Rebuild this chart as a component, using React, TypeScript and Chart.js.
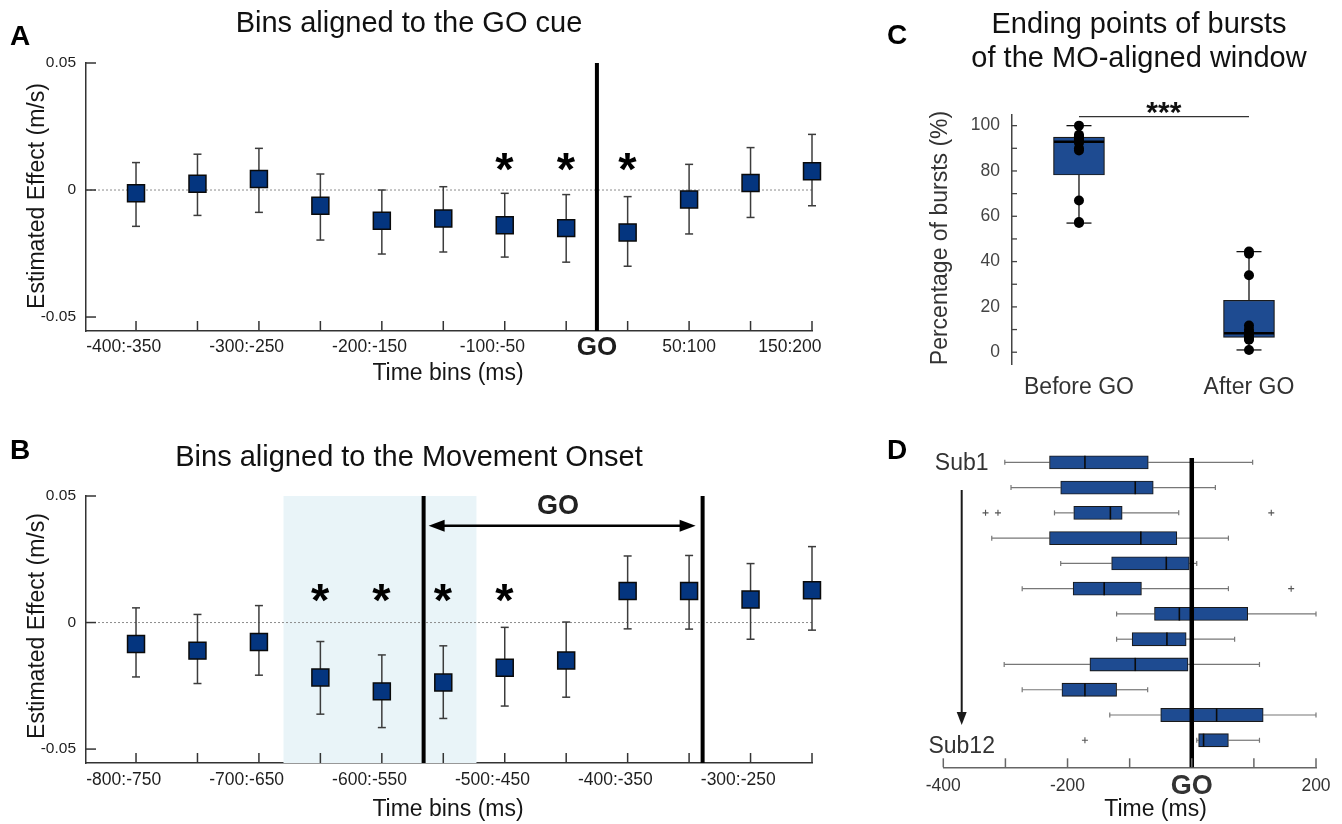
import React, { useEffect, useRef } from 'react';
import { Chart, registerables } from 'chart.js';

Chart.register(...registerables);

const FONT = '"Liberation Sans", Arial, Helvetica, sans-serif';
Chart.defaults.font.family = FONT;

const W = 1342;
const H = 824;

// ---------------- Panel A : bins aligned to the GO cue ----------------
const binLabelsA = ['-400:-350', '-350:-300', '-300:-250', '-250:-200', '-200:-150', '-150:-100', '-100:-50', '-50:0', '0:50', '50:100', '100:150', '150:200'];
const binCentersA = [-375, -325, -275, -225, -175, -125, -75, -25, 25, 75, 125, 175];
const effectA = [-0.0013, 0.0025, 0.0043, -0.0062, -0.0121, -0.0112, -0.0139, -0.015, -0.0167, -0.0037, 0.0028, 0.0074];
const lowerA = [-0.0143, -0.01, -0.0088, -0.0197, -0.0252, -0.0244, -0.0264, -0.0284, -0.03, -0.0173, -0.0108, -0.0062];
const upperA = [0.0108, 0.0141, 0.0164, 0.0063, 0.0, 0.0013, -0.0013, -0.0018, -0.0026, 0.0101, 0.0167, 0.0219];
const significantA = [6, 7, 8];
const tickPosA = [-385, -285, -185, -85, 0, 75, 157];
const tickTextA = ['-400:-350', '-300:-250', '-200:-150', '-100:-50', 'GO', '50:100', '150:200'];
const goLinesA = [0];

// ---------------- Panel B : bins aligned to the movement onset ----------------
const binLabelsB = ['-800:-750', '-750:-700', '-700:-650', '-650:-600', '-600:-550', '-550:-500', '-500:-450', '-450:-400', '-400:-350', '-350:-300', '-300:-250', '-250:-200'];
const binCentersB = [-775, -725, -675, -625, -575, -525, -475, -425, -375, -325, -275, -225];
const effectB = [-0.0085, -0.0111, -0.0077, -0.0217, -0.0272, -0.0237, -0.0179, -0.015, 0.0125, 0.0125, 0.0091, 0.0128];
const lowerB = [-0.0215, -0.0241, -0.0208, -0.0362, -0.0415, -0.0379, -0.033, -0.0295, -0.0025, -0.0026, -0.0066, -0.003];
const upperB = [0.0058, 0.0032, 0.0067, -0.0075, -0.0128, -0.0092, -0.0019, 0.0002, 0.0263, 0.0265, 0.0233, 0.03];
const significantB = [3, 4, 5, 6];
const tickPosB = [-785, -685, -585, -485, -385, -285];
const tickTextB = ['-800:-750', '-700:-650', '-600:-550', '-500:-450', '-400:-350', '-300:-250'];
const goLinesB = [-541, -314];
const shadeB = [-655, -498];

const yTicksAB = [-0.05, 0, 0.05];
const yTickTextAB = ['-0.05', '0', '0.05'];

// ---------------- Panel C : ending points of bursts ----------------
const groupsC = ['Before GO', 'After GO'];
const groupPosC = [1, 2];
const pointsBeforeC = [57, 57.5, 67, 89, 90, 92.5, 93.3, 94, 94.5, 95.3, 96, 100];
const pointsAfterC = [1, 5.5, 6, 7, 7.5, 8, 8.8, 10, 11.8, 34, 43.5, 44.4];
const q1C = [78.2, 6.5];
const medianC = [92.9, 8.4];
const q3C = [94.9, 22.9];
const whiskerLowC = [57, 1];
const whiskerHighC = [100, 44.4];
const yTicksC = [0, 20, 40, 60, 80, 100];
const sigLevelC = 104;

// ---------------- Panel D : per-subject burst timing ----------------
const subjectsD = [1, 2, 3, 4, 5, 6, 7, 8, 9, 10, 11, 12];
const whiskerLowD = [-301, -291, -221, -322, -211, -273, -121, -121, -302, -273, -132, 8];
const q1D = [-229, -211, -190, -229, -129, -191, -60, -96, -164, -209, -50, 11];
const medianD = [-172, -91, -131, -82, -41, -141, -20, -40, -91, -172, 40, 19];
const q3D = [-70, -62, -112, -24, -4, -81, 90, -9, -6, -121, 115, 59];
const whiskerHighD = [98, 38, -21, 59, 8, 59, 200, 69, 109, -71, 200, 109];
const outlierRowD = [3, 3, 3, 6, 12];
const outlierTimeD = [-332, -312, 128, 160, -172];
const tickPosD = [-400, -200, 0, 200];
const tickTextD = ['-400', '-200', 'GO', '200'];

// ---------------- colours ----------------
const SQUARE = '#04357f';
const BOX = '#1e4b91';
const AXIS = '#333333';

// ---------------- drawing helpers ----------------
function seg(ctx: CanvasRenderingContext2D, x1: number, y1: number, x2: number, y2: number) {
  ctx.beginPath();
  ctx.moveTo(x1, y1);
  ctx.lineTo(x2, y2);
  ctx.stroke();
}

function text(ctx: CanvasRenderingContext2D, s: string, x: number, y: number, font: string, color: string, align: CanvasTextAlign = 'center', baseline: CanvasTextBaseline = 'alphabetic') {
  ctx.save();
  ctx.font = font;
  ctx.fillStyle = color;
  ctx.textAlign = align;
  ctx.textBaseline = baseline;
  ctx.fillText(s, x, y);
  ctx.restore();
}

function vtext(ctx: CanvasRenderingContext2D, s: string, cx: number, cy: number, font: string, color: string) {
  ctx.save();
  ctx.translate(cx, cy);
  ctx.rotate(-Math.PI / 2);
  ctx.font = font;
  ctx.fillStyle = color;
  ctx.textAlign = 'center';
  ctx.textBaseline = 'middle';
  ctx.fillText(s, 0, 0);
  ctx.restore();
}

function glyph(ctx: CanvasRenderingContext2D, s: string, cx: number, cy: number, font: string, color: string) {
  ctx.save();
  ctx.font = font;
  ctx.fillStyle = color;
  ctx.textAlign = 'left';
  ctx.textBaseline = 'alphabetic';
  const m = ctx.measureText(s);
  const x = cx - (m.actualBoundingBoxRight - m.actualBoundingBoxLeft) / 2;
  const y = cy + (m.actualBoundingBoxAscent - m.actualBoundingBoxDescent) / 2;
  ctx.fillText(s, x, y);
  ctx.restore();
}

function arrowHead(ctx: CanvasRenderingContext2D, tx: number, ty: number, dx: number, dy: number, len: number, half: number) {
  const bx = tx - dx * len;
  const by = ty - dy * len;
  ctx.beginPath();
  ctx.moveTo(tx, ty);
  ctx.lineTo(bx - dy * half, by + dx * half);
  ctx.lineTo(bx + dy * half, by - dx * half);
  ctx.closePath();
  ctx.fill();
}

// ---------------- A / B config ----------------
type EffectPanel = {
  id: string;
  top: number;
  bottom: number;
  xMin: number;
  xMax: number;
  centers: number[];
  values: number[];
  lower: number[];
  upper: number[];
  significant: number[];
  starLevel: number;
  tickPos: number[];
  tickText: string[];
  tickPad: number;
  goLines: number[];
  shade?: number[];
  title: string;
  titleY: number;
  letter: string;
  letterY: number;
  yTitleY: number;
  xTitleY: number;
  goArrow?: boolean;
};

function effectConfig(p: EffectPanel) {
  const plugin = {
    id: 'effect' + p.id,
    beforeDatasetsDraw(chart: any) {
      const { ctx, chartArea: ca } = chart;
      const x = chart.scales.x;
      const y = chart.scales.y;
      ctx.save();
      if (p.shade) {
        const a = x.getPixelForValue(p.shade[0]);
        const b = x.getPixelForValue(p.shade[1]);
        ctx.fillStyle = '#e9f4f8';
        ctx.fillRect(a, y.getPixelForValue(0.05), b - a, ca.bottom - y.getPixelForValue(0.05));
      }
      ctx.strokeStyle = '#8c8c8c';
      ctx.lineWidth = 1;
      ctx.setLineDash([2, 2]);
      const y0 = y.getPixelForValue(0);
      seg(ctx, ca.left, y0, ca.right, y0);
      ctx.setLineDash([]);
      ctx.strokeStyle = '#000';
      ctx.lineWidth = 4;
      p.goLines.forEach((g) => {
        const gx = x.getPixelForValue(g);
        seg(ctx, gx, ca.top, gx, ca.bottom);
      });
      ctx.strokeStyle = '#3c3c3c';
      ctx.lineWidth = 1.5;
      p.centers.forEach((c, i) => {
        const px = x.getPixelForValue(c);
        const y1 = y.getPixelForValue(p.lower[i]);
        const y2 = y.getPixelForValue(p.upper[i]);
        seg(ctx, px, y1, px, y2);
        seg(ctx, px - 4, y1, px + 4, y1);
        seg(ctx, px - 4, y2, px + 4, y2);
      });
      ctx.restore();
    },
    afterDatasetsDraw(chart: any) {
      const { ctx } = chart;
      const x = chart.scales.x;
      const y = chart.scales.y;
      p.significant.forEach((i) => {
        glyph(ctx, '*', x.getPixelForValue(p.centers[i]), y.getPixelForValue(p.starLevel), 'bold 47px ' + FONT, '#000');
      });
      if (p.goArrow) {
        const l = x.getPixelForValue(p.goLines[0]) + 5;
        const r = x.getPixelForValue(p.goLines[1]) - 7;
        const ay = y.getPixelForValue(0.0382);
        ctx.save();
        ctx.strokeStyle = '#000';
        ctx.fillStyle = '#000';
        ctx.lineWidth = 2.5;
        seg(ctx, l + 10, ay, r - 10, ay);
        arrowHead(ctx, l, ay, -1, 0, 16, 6);
        arrowHead(ctx, r, ay, 1, 0, 16, 6);
        ctx.restore();
        const mid = (x.getPixelForValue(p.goLines[0]) + x.getPixelForValue(p.goLines[1])) / 2 - 5;
        glyph(ctx, 'GO', mid, y.getPixelForValue(0.0468), 'bold 27px ' + FONT, '#222');
      }
    },
    afterDraw(chart: any) {
      const { ctx, chartArea: ca } = chart;
      const x = chart.scales.x;
      const y = chart.scales.y;
      ctx.save();
      ctx.strokeStyle = AXIS;
      ctx.lineWidth = 1.5;
      p.centers.forEach((c) => {
        const px = x.getPixelForValue(c);
        seg(ctx, px, ca.bottom, px, ca.bottom - 10);
      });
      yTicksAB.forEach((v) => {
        const py = y.getPixelForValue(v);
        seg(ctx, ca.left, py, ca.left + 10, py);
      });
      ctx.restore();
      text(ctx, p.title, 409, p.titleY, '29px ' + FONT, '#111');
      text(ctx, p.letter, 10, p.letterY, 'bold 28px ' + FONT, '#000', 'left');
      vtext(ctx, 'Estimated Effect (m/s)', 38, p.yTitleY, '23px ' + FONT, '#161616');
      text(ctx, 'Time bins (ms)', 448, p.xTitleY, '23px ' + FONT, '#161616');
    },
  };

  return {
    type: 'scatter',
    data: {
      datasets: [
        {
          data: p.centers.map((c, i) => ({ x: c, y: p.values[i] })),
          pointStyle: 'rect',
          pointRadius: 12,
          pointHoverRadius: 12,
          backgroundColor: SQUARE,
          borderColor: '#0a0a0a',
          borderWidth: 1.5,
          clip: false,
        },
      ],
    },
    options: {
      animation: false,
      responsive: false,
      maintainAspectRatio: false,
      events: [],
      layout: { padding: { left: 0, top: p.top, right: W - 812, bottom: H - p.bottom - 50 } },
      plugins: { legend: { display: false }, tooltip: { enabled: false }, title: { display: false } },
      scales: {
        x: {
          type: 'linear',
          min: p.xMin,
          max: p.xMax,
          offset: false,
          grid: { display: false, drawTicks: false },
          border: { display: true, color: AXIS, width: 1.5 },
          afterBuildTicks: (s: any) => {
            s.ticks = p.tickPos.map((v) => ({ value: v }));
          },
          afterFit: (s: any) => {
            s.height = 50;
          },
          ticks: {
            autoSkip: false,
            maxRotation: 0,
            minRotation: 0,
            padding: p.tickPad,
            color: '#1e1e1e',
            font: (c: any) => (p.tickText[c.index] === 'GO' ? { size: 26, weight: 'bold', lineHeight: 0.85 } : { size: 17.5 }),
            callback: (_v: any, i: number) => p.tickText[i],
          },
        },
        y: {
          type: 'linear',
          min: -0.0555,
          max: 0.05,
          grid: { display: false, drawTicks: false },
          border: { display: true, color: AXIS, width: 1.5 },
          afterBuildTicks: (s: any) => {
            s.ticks = yTicksAB.map((v) => ({ value: v }));
          },
          afterFit: (s: any) => {
            s.width = 86;
          },
          ticks: {
            padding: 10,
            color: '#1e1e1e',
            font: { size: 15.5 },
            callback: (_v: any, i: number) => yTickTextAB[i],
          },
        },
      },
    },
    plugins: [plugin],
  };
}

function configA() {
  return effectConfig({
    id: 'A',
    top: 63,
    bottom: 331,
    xMin: -415.7,
    xMax: 175,
    centers: binCentersA,
    values: effectA,
    lower: lowerA,
    upper: upperA,
    significant: significantA,
    starLevel: 0.0112,
    tickPos: tickPosA,
    tickText: tickTextA,
    tickPad: 6,
    goLines: goLinesA,
    title: 'Bins aligned to the GO cue',
    titleY: 32,
    letter: 'A',
    letterY: 45,
    yTitleY: 196,
    xTitleY: 380,
  });
}

function configB() {
  return effectConfig({
    id: 'B',
    top: 496,
    bottom: 763,
    xMin: -815.7,
    xMax: -225,
    centers: binCentersB,
    values: effectB,
    lower: lowerB,
    upper: upperB,
    significant: significantB,
    starLevel: 0.0115,
    tickPos: tickPosB,
    tickText: tickTextB,
    tickPad: 7,
    goLines: goLinesB,
    shade: shadeB,
    title: 'Bins aligned to the Movement Onset',
    titleY: 466,
    letter: 'B',
    letterY: 459,
    yTitleY: 626,
    xTitleY: 816,
    goArrow: true,
  });
}

// ---------------- C config ----------------
function configC() {
  const plugin = {
    id: 'panelC',
    beforeDatasetsDraw(chart: any) {
      const { ctx } = chart;
      const x = chart.scales.x;
      const y = chart.scales.y;
      ctx.save();
      ctx.strokeStyle = '#111';
      ctx.lineWidth = 1.3;
      groupPosC.forEach((g, i) => {
        const px = x.getPixelForValue(g);
        seg(ctx, px, y.getPixelForValue(q3C[i]), px, y.getPixelForValue(whiskerHighC[i]));
        seg(ctx, px, y.getPixelForValue(q1C[i]), px, y.getPixelForValue(whiskerLowC[i]));
        seg(ctx, px - 12.5, y.getPixelForValue(whiskerHighC[i]), px + 12.5, y.getPixelForValue(whiskerHighC[i]));
        seg(ctx, px - 12.5, y.getPixelForValue(whiskerLowC[i]), px + 12.5, y.getPixelForValue(whiskerLowC[i]));
      });
      ctx.restore();
    },
    afterDatasetDraw(chart: any, args: any) {
      if (args.index !== 1) return;
      const { ctx } = chart;
      const x = chart.scales.x;
      const y = chart.scales.y;
      ctx.save();
      ctx.strokeStyle = '#000';
      ctx.lineWidth = 2.5;
      groupPosC.forEach((g, i) => {
        const px = x.getPixelForValue(g);
        const py = y.getPixelForValue(medianC[i]);
        seg(ctx, px - 25, py, px + 25, py);
      });
      ctx.restore();
    },
    afterDraw(chart: any) {
      const { ctx, chartArea: ca } = chart;
      const x = chart.scales.x;
      const y = chart.scales.y;
      ctx.save();
      ctx.strokeStyle = '#444';
      ctx.lineWidth = 1.3;
      for (let v = 0; v <= 100; v += 10) {
        const py = y.getPixelForValue(v);
        seg(ctx, ca.left, py, ca.left + 5, py);
      }
      ctx.strokeStyle = '#333';
      ctx.lineWidth = 1.2;
      const sy = y.getPixelForValue(sigLevelC);
      seg(ctx, x.getPixelForValue(groupPosC[0]), sy, x.getPixelForValue(groupPosC[1]), sy);
      ctx.restore();
      glyph(ctx, '***', x.getPixelForValue(1.5), sy - 9, 'bold 30px ' + FONT, '#111');
      text(ctx, 'Ending points of bursts', 1139, 33, '29px ' + FONT, '#111');
      text(ctx, 'of the MO-aligned window', 1139, 67, '29px ' + FONT, '#111');
      text(ctx, 'C', 887, 44, 'bold 28px ' + FONT, '#000', 'left');
      vtext(ctx, 'Percentage of bursts (%)', 941, 238, '23px ' + FONT, '#333');
    },
  };

  return {
    type: 'bar',
    data: {
      datasets: [
        {
          type: 'scatter',
          data: [
            ...pointsBeforeC.map((v) => ({ x: groupPosC[0], y: v })),
            ...pointsAfterC.map((v) => ({ x: groupPosC[1], y: v })),
          ],
          pointRadius: 5,
          pointHoverRadius: 5,
          backgroundColor: '#000',
          borderWidth: 0,
          clip: false,
        },
        {
          type: 'bar',
          data: groupPosC.map((g, i) => ({ x: g, y: [q1C[i], q3C[i]] })),
          backgroundColor: BOX,
          borderColor: '#1a1a1a',
          borderWidth: 1.2,
          borderSkipped: false,
          barThickness: 51,
        },
      ],
    },
    options: {
      animation: false,
      responsive: false,
      maintainAspectRatio: false,
      events: [],
      layout: { padding: { left: 1012 - 100, top: 115, right: W - 1317, bottom: H - 364 - 50 } },
      plugins: { legend: { display: false }, tooltip: { enabled: false }, title: { display: false } },
      scales: {
        x: {
          type: 'linear',
          min: 0.606,
          max: 2.4,
          offset: false,
          grid: { display: false, drawTicks: false, offset: false },
          border: { display: false },
          afterBuildTicks: (s: any) => {
            s.ticks = groupPosC.map((v) => ({ value: v }));
          },
          afterFit: (s: any) => {
            s.height = 50;
          },
          ticks: {
            autoSkip: false,
            maxRotation: 0,
            minRotation: 0,
            padding: 10,
            color: '#333',
            font: { size: 23 },
            callback: (_v: any, i: number) => groupsC[i],
          },
        },
        y: {
          type: 'linear',
          min: -5.2,
          max: 104.7,
          offset: false,
          beginAtZero: false,
          grid: { display: false, drawTicks: false, offset: false },
          border: { display: true, color: '#444', width: 1.5 },
          afterBuildTicks: (s: any) => {
            s.ticks = yTicksC.map((v) => ({ value: v }));
          },
          afterFit: (s: any) => {
            s.width = 100;
          },
          ticks: {
            padding: 12,
            color: '#444',
            font: { size: 17.5 },
            callback: (v: any) => String(v),
          },
        },
      },
    },
    plugins: [plugin],
  };
}

// ---------------- D config ----------------
function configD() {
  const half = 6.6;
  const plugin = {
    id: 'panelD',
    beforeDatasetsDraw(chart: any) {
      const { ctx } = chart;
      const x = chart.scales.x;
      const y = chart.scales.y;
      ctx.save();
      ctx.strokeStyle = '#777';
      ctx.lineWidth = 1.2;
      subjectsD.forEach((s, i) => {
        const py = y.getPixelForValue(s);
        const lo = x.getPixelForValue(whiskerLowD[i]);
        const hi = x.getPixelForValue(whiskerHighD[i]);
        seg(ctx, lo, py, x.getPixelForValue(q1D[i]), py);
        seg(ctx, x.getPixelForValue(q3D[i]), py, hi, py);
        seg(ctx, lo, py - 2.5, lo, py + 2.5);
        seg(ctx, hi, py - 2.5, hi, py + 2.5);
      });
      ctx.restore();
    },
    afterDatasetDraw(chart: any, args: any) {
      if (args.index !== 1) return;
      const { ctx } = chart;
      const x = chart.scales.x;
      const y = chart.scales.y;
      ctx.save();
      ctx.strokeStyle = '#0b0b0b';
      ctx.lineWidth = 1.6;
      subjectsD.forEach((s, i) => {
        const py = y.getPixelForValue(s);
        const px = x.getPixelForValue(medianD[i]);
        seg(ctx, px, py - half, px, py + half);
      });
      ctx.restore();
    },
    afterDatasetsDraw(chart: any) {
      const { ctx, chartArea: ca } = chart;
      const x = chart.scales.x;
      const y = chart.scales.y;
      ctx.save();
      ctx.strokeStyle = '#000';
      ctx.lineWidth = 4.5;
      const gx = x.getPixelForValue(0);
      seg(ctx, gx, y.getPixelForValue(0.83), gx, ca.bottom);
      ctx.restore();
    },
    afterDraw(chart: any) {
      const { ctx, chartArea: ca } = chart;
      const x = chart.scales.x;
      ctx.save();
      ctx.strokeStyle = '#666';
      ctx.lineWidth = 1.5;
      for (let v = -400; v <= 200; v += 100) {
        const px = x.getPixelForValue(v);
        seg(ctx, px, ca.bottom, px, ca.bottom - 9);
      }
      ctx.strokeStyle = '#1a1a1a';
      ctx.fillStyle = '#1a1a1a';
      ctx.lineWidth = 2;
      seg(ctx, 961.7, 490, 961.7, 714);
      arrowHead(ctx, 961.7, 725, 0, 1, 13, 5);
      ctx.restore();
      text(ctx, 'Sub1', 961.7, 470, '23px ' + FONT, '#333');
      text(ctx, 'Sub12', 961.7, 753, '23px ' + FONT, '#333');
      text(ctx, 'D', 887, 459, 'bold 28px ' + FONT, '#000', 'left');
      text(ctx, 'Time (ms)', 1155.5, 816, '23px ' + FONT, '#161616');
    },
  };

  return {
    type: 'bar',
    data: {
      datasets: [
        {
          type: 'scatter',
          data: outlierRowD.map((r, i) => ({ x: outlierTimeD[i], y: r })),
          pointStyle: 'cross',
          pointRadius: 3,
          pointHoverRadius: 3,
          borderColor: '#555',
          borderWidth: 1.1,
          clip: false,
        },
        {
          type: 'bar',
          indexAxis: 'y',
          data: subjectsD.map((s, i) => ({ y: s, x: [q1D[i], q3D[i]] })),
          backgroundColor: BOX,
          borderColor: '#1a1a1a',
          borderWidth: 1.1,
          borderSkipped: false,
          barThickness: 13.2,
        },
      ],
    },
    options: {
      animation: false,
      responsive: false,
      maintainAspectRatio: false,
      events: [],
      layout: { padding: { left: 943.3, top: 449.7, right: W - 1316, bottom: H - 767.3 - 50 } },
      plugins: { legend: { display: false }, tooltip: { enabled: false }, title: { display: false } },
      scales: {
        x: {
          type: 'linear',
          min: -400,
          max: 200,
          offset: false,
          beginAtZero: false,
          grid: { display: false, drawTicks: false, offset: false },
          border: { display: true, color: '#666', width: 1.5 },
          afterBuildTicks: (s: any) => {
            s.ticks = tickPosD.map((v) => ({ value: v }));
          },
          afterFit: (s: any) => {
            s.height = 50;
          },
          ticks: {
            autoSkip: false,
            maxRotation: 0,
            minRotation: 0,
            padding: 8.5,
            color: '#333',
            font: (c: any) => (tickTextD[c.index] === 'GO' ? { size: 27, weight: 'bold', lineHeight: 0.8 } : { size: 17.5 }),
            callback: (_v: any, i: number) => tickTextD[i],
          },
        },
        y: {
          type: 'linear',
          display: false,
          reverse: true,
          min: 0.5,
          max: 13.07,
          offset: false,
          grid: { display: false, offset: false },
        },
      },
    },
    plugins: [plugin],
  };
}

function ChartLayer({ make }: { make: () => any }) {
  const ref = useRef<HTMLCanvasElement>(null);
  useEffect(() => {
    const chart = new Chart(ref.current as HTMLCanvasElement, make());
    return () => chart.destroy();
  }, []);
  return <canvas ref={ref} width={W} height={H} style={{ position: 'absolute', left: 0, top: 0, width: W, height: H }} />;
}

export default function App() {
  return (
    <div style={{ position: 'fixed', left: 0, top: 0, width: W, height: H, background: '#ffffff', overflow: 'hidden' }}>
      <ChartLayer make={configA} />
      <ChartLayer make={configB} />
      <ChartLayer make={configC} />
      <ChartLayer make={configD} />
    </div>
  );
}
